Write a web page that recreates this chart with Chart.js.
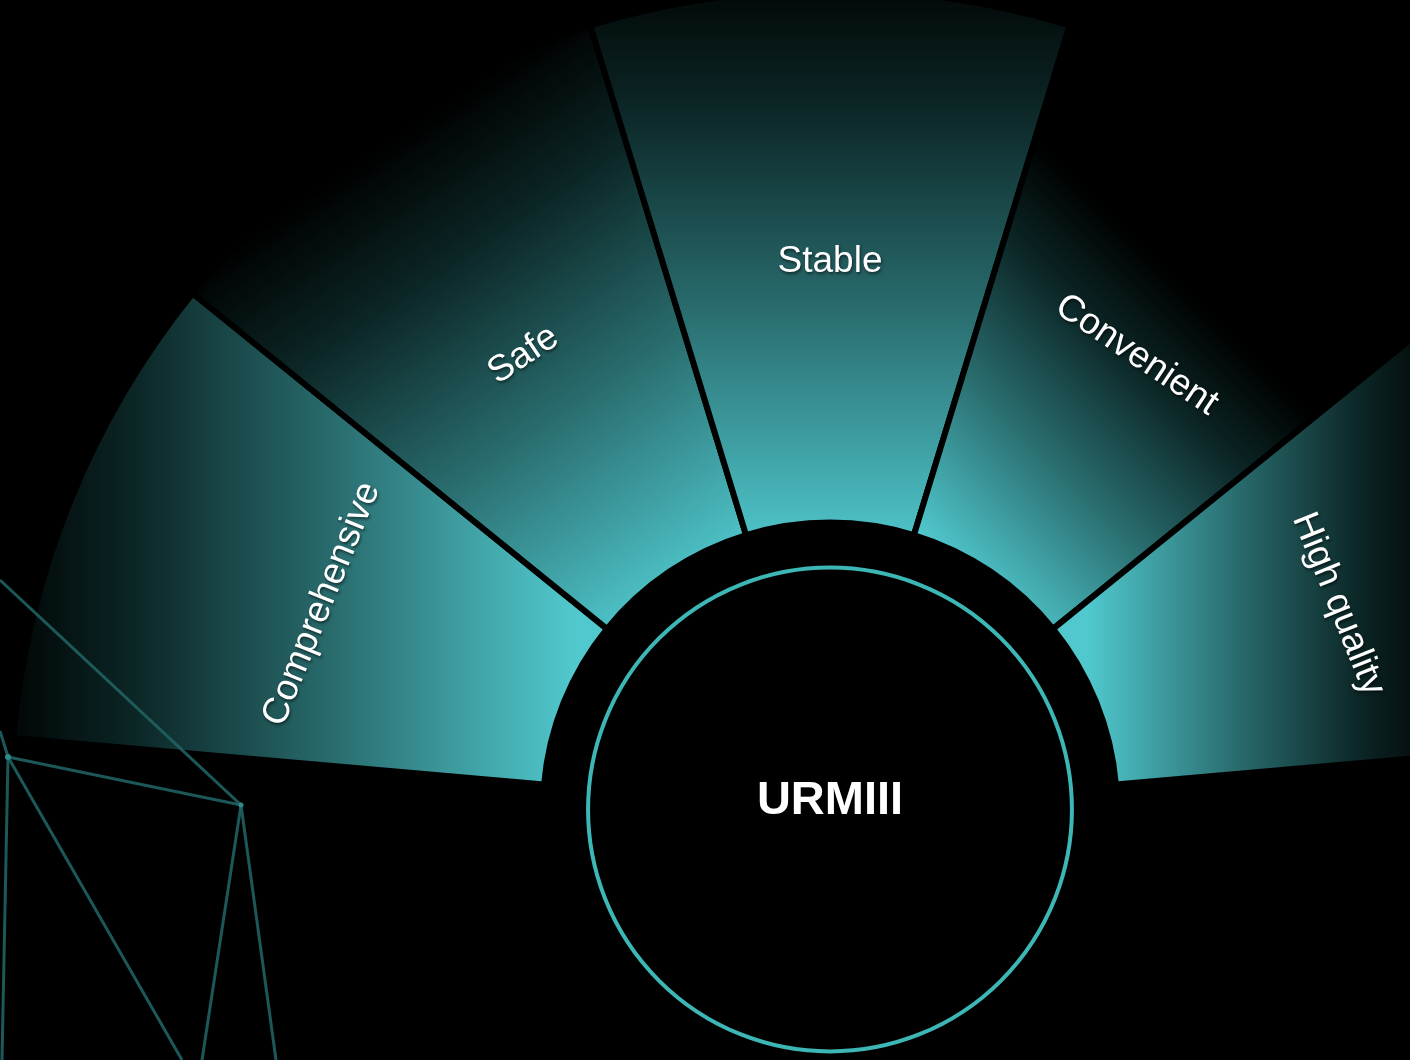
<!DOCTYPE html>
<html>
<head>
<meta charset="utf-8">
<title>URMIII</title>
<script src="https://cdn.jsdelivr.net/npm/chart.js@4.4.1/dist/chart.umd.min.js"></script>
<style>
  html, body { margin: 0; padding: 0; background: #000; }
  #wrap { position: relative; width: 1410px; height: 1060px; overflow: hidden; background: #000; }
  #mesh { position: absolute; left: 0; top: 0; pointer-events: none; }
</style>
</head>
<body>
<div id="wrap">
  <canvas id="fan" width="1410" height="1060"></canvas>
  <!-- decorative wire mesh, bottom left -->
  <svg id="mesh" width="1410" height="1060">
    <g stroke="#206262" stroke-width="3" stroke-opacity="0.9" fill="none">
      <line x1="0" y1="580" x2="241" y2="805"/>
      <line x1="0" y1="731" x2="8" y2="757"/>
      <line x1="8" y1="757" x2="241" y2="805"/>
      <line x1="8" y1="757" x2="2" y2="1060"/>
      <line x1="8" y1="757" x2="182" y2="1060"/>
      <line x1="241" y1="805" x2="202" y2="1060"/>
      <line x1="241" y1="805" x2="276" y2="1060"/>
    </g>
    <circle cx="8" cy="757" r="3" fill="#2f8a8a"/>
    <circle cx="241" cy="805" r="2.5" fill="#2f8a8a"/>
  </svg>
</div>
<script>
const categories = ['Comprehensive', 'Safe', 'Stable', 'Convenient', 'High quality'];
const weights = [1, 1, 1, 1, 1];
const centerTitle = 'URMIII';

// fan geometry (degrees, Chart.js convention: 0 = top, clockwise)
const ROTATION = -85;
const CIRC = 170;
// direction of each slice's fade (deg from top) and where it reaches black (px from centre)
const fadeDir = [-90, -34, 0, 45, 90];
const fadeEnd = [840, 800, 850, 620, 620];

function sliceFill(ctx) {
    const chart = ctx.chart;
    const ca = chart.chartArea;
    const ctrl = chart.getDatasetMeta(0).controller;
    if (!ca || !ctrl || typeof ctrl.offsetY !== 'number' || !ctrl.innerRadius) {
        return '#2a7070';
    }
    const cx = (ca.left + ca.right) / 2 + ctrl.offsetX;
    const cy = (ca.top + ca.bottom) / 2 + ctrl.offsetY;
    const dir = (fadeDir[ctx.dataIndex] - 90) * Math.PI / 180;
    const r0 = ctrl.innerRadius * 0.9;
    const r1 = fadeEnd[ctx.dataIndex];
    const g = chart.ctx.createLinearGradient(
        cx + Math.cos(dir) * r0, cy + Math.sin(dir) * r0,
        cx + Math.cos(dir) * r1, cy + Math.sin(dir) * r1);
    g.addColorStop(0, '#50c8cd');
    g.addColorStop(0.4, '#2a6e70');
    g.addColorStop(0.75, '#0c2626');
    g.addColorStop(1, '#000000');
    return g;
}

// labels along each slice, centre ring and title
const fanDecor = {
    id: 'fanDecor',
    afterDatasetsDraw(chart) {
        const meta = chart.getDatasetMeta(0);
        const g = chart.ctx;
        meta.data.forEach((arc, i) => {
            const p = arc.getProps(['x', 'y', 'startAngle', 'endAngle', 'innerRadius', 'outerRadius'], true);
            const mid = (p.startAngle + p.endAngle) / 2;
            const r = p.innerRadius + (p.outerRadius - p.innerRadius) * 0.49;
            g.save();
            g.translate(p.x + Math.cos(mid) * r, p.y + Math.sin(mid) * r);
            g.rotate(mid + Math.PI / 2);
            g.font = '37px "Liberation Sans", Arial, sans-serif';
            g.fillStyle = '#ffffff';
            g.textAlign = 'center';
            g.textBaseline = 'middle';
            g.shadowColor = 'rgba(0,0,0,0.55)';
            g.shadowOffsetX = 1;
            g.shadowOffsetY = 2;
            g.shadowBlur = 3;
            g.fillText(categories[i], 0, 0);
            g.restore();
        });

        const a = meta.data[0].getProps(['x', 'y', 'innerRadius'], true);
        g.save();
        g.beginPath();
        g.arc(a.x, a.y, a.innerRadius * 0.843, 0, Math.PI * 2);
        g.fillStyle = '#000';
        g.fill();
        g.lineWidth = 4;
        g.strokeStyle = '#3db6b6';
        g.stroke();
        g.font = 'bold 47px "Liberation Sans", Arial, sans-serif';
        g.fillStyle = '#ffffff';
        g.textAlign = 'center';
        g.textBaseline = 'middle';
        g.fillText(centerTitle, a.x, a.y - 8);
        g.restore();
    }
};

const fanChart = new Chart(document.getElementById('fan').getContext('2d'), {
    type: 'doughnut',
    data: {
        labels: categories,
        datasets: [{
            data: weights,
            backgroundColor: sliceFill,
            borderColor: '#000000',
            borderWidth: 6,
            rotation: ROTATION,
            circumference: CIRC,
            radius: 820,
            cutout: '35%'
        }]
    },
    options: {
        responsive: false,
        animation: false,
        layout: { padding: { left: 250, right: 0, top: 0, bottom: 286 } },
        plugins: {
            legend: { display: false },
            tooltip: { enabled: false }
        }
    },
    plugins: [fanDecor]
});
</script>
</body>
</html>
